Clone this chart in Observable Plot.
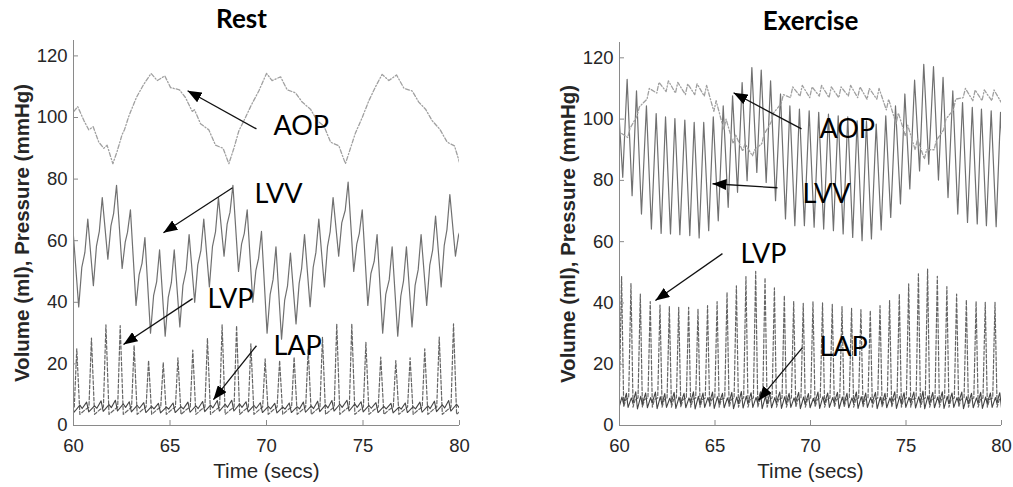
<!DOCTYPE html>
<html><head><meta charset="utf-8">
<script src="https://cdn.jsdelivr.net/npm/d3@7"></script>
<script src="https://cdn.jsdelivr.net/npm/@observablehq/plot@0.6"></script>
<style>
body{margin:0;background:#fff;}
#wrap{position:relative;width:1013px;height:487px;overflow:hidden;background:#fff;}
#left,#right{position:absolute;top:0;}
#left{left:0;} #right{left:506px;}
</style></head><body><div id="wrap"><div id="left"></div><div id="right"></div></div>
<script>
// ---------------- data ----------------
const xTicks = [60, 65, 70, 75, 80];
const yTicks = [0, 20, 40, 60, 80, 100, 120];
const seriesNames = ["AOP", "LVV", "LVP", "LAP"];

// Rest: beat times (LVV end-diastolic peaks, s)
const restBeatT = [59.98, 60.74, 61.49, 62.23, 62.95, 63.70, 64.46, 65.22, 65.99, 66.75, 67.51, 68.26, 69.00, 69.74, 70.49, 71.24, 71.97, 72.71, 73.45, 74.23, 74.96, 75.73, 76.51, 77.25, 78.01, 78.76, 79.50, 80.25];
const restLVVMax = [63, 67, 74, 78, 70, 61, 57, 57, 62, 67, 74, 78, 70, 63, 58, 56, 62, 67, 74, 79, 70, 62, 58, 58, 62, 68, 75, 70];
const restLVVMin = [38.5, 45.4, 54, 51, 39, 30, 29, 32, 40, 45, 55, 50, 40, 30, 28, 33, 38.6, 45, 55, 50, 39, 30, 29, 32, 39, 45, 55, 50];
const restLVPMax = [24.9, 28.4, 32.7, 32.4, 26, 21.1, 20.5, 22, 24.5, 28.3, 32.7, 32.4, 26.5, 21.6, 21.1, 22.2, 24.9, 28.7, 33, 33, 27, 22.2, 21.1, 22, 24.9, 28.7, 33, 26];
const restLAPHigh = [7.8, 7.6, 8.0, 8.2, 7.7, 7.4, 7.2, 7.3, 7.6, 7.8, 8.1, 8.2, 7.7, 7.4, 7.2, 7.3, 7.6, 7.9, 8.1, 8.2, 7.7, 7.4, 7.2, 7.3, 7.6, 7.9, 8.1, 7.8];
const restLAPLow = [4.3, 4.4, 4.6, 4.7, 4.4, 4.2, 4.1, 4.2, 4.3, 4.5, 4.7, 4.7, 4.4, 4.2, 4.1, 4.2, 4.3, 4.5, 4.7, 4.7, 4.4, 4.2, 4.1, 4.2, 4.3, 4.5, 4.7, 4.5];
const restAOPT = [60.02, 60.22, 60.54, 60.79, 61.02, 61.31, 61.57, 61.74, 62.04, 62.26, 62.52, 62.64, 62.87, 63.26, 63.64, 64.02, 64.34, 64.73, 65.03, 65.49, 65.80, 66.15, 66.27, 66.58, 67.01, 67.36, 67.75, 68.05, 68.31, 68.57, 68.91, 69.21, 69.60, 70.00, 70.29, 70.73, 71.07, 71.50, 71.85, 72.28, 72.63, 72.97, 73.32, 73.75, 74.09, 74.35, 74.61, 74.96, 75.30, 75.65, 75.99, 76.34, 76.74, 77.12, 77.55, 77.89, 78.24, 78.58, 78.98, 79.36, 79.74, 80.02];
const restAOPV = [102, 103.5, 99, 96, 97, 92, 90, 91, 85, 89, 94.5, 96, 100.5, 106.5, 110.8, 114.3, 112, 113.5, 109.7, 109, 106.5, 102, 102.5, 98, 96, 91, 90, 85, 90, 95.7, 100, 104, 108.6, 114.3, 112, 113.2, 109, 108, 105, 102.7, 99, 97.3, 92, 90.8, 85, 90, 95, 100, 105.4, 110, 114, 112, 113.8, 109.5, 108.6, 105, 102.7, 99, 96.2, 92, 90.8, 85];

// Exercise
const exBeatT = [59.91, 60.40, 60.89, 61.41, 61.92, 62.41, 62.90, 63.42, 63.91, 64.41, 64.91, 65.43, 65.92, 66.42, 66.93, 67.42, 67.91, 68.43, 68.92, 69.42, 69.93, 70.43, 70.94, 71.45, 71.95, 72.44, 72.93, 73.44, 73.94, 74.45, 74.94, 75.45, 75.93, 76.44, 76.94, 77.45, 77.96, 78.47, 78.95, 79.46, 79.95];
const exLVVMax = [108, 113, 109.2, 104.3, 101.8, 100.7, 100.2, 99.7, 98.9, 98.9, 100.7, 104.3, 107.6, 111.9, 116.8, 116, 112.5, 108.2, 104.3, 103.3, 102.7, 102.2, 101.6, 101.1, 100.7, 99.4, 99.4, 98.4, 101.1, 104.3, 108.2, 112.7, 117.9, 117.1, 113.6, 109.2, 105.4, 103.8, 103.3, 102.7, 102.2];
const exLVVMin = [81, 75, 69, 64.1, 62.7, 62.5, 62.3, 62, 61.2, 63.6, 66.8, 71.2, 76.1, 79.9, 82.6, 79.3, 73.4, 67.4, 65.2, 65.2, 64.7, 64.1, 63.6, 62.5, 61.4, 60.3, 60.9, 63.8, 67.9, 72.3, 77.2, 83.1, 85.3, 80.1, 74.4, 69, 66.3, 65.8, 65.2, 64.9, 65];
const exLVPMax = [48.6, 46.4, 42.9, 40.4, 39.3, 38.9, 38.6, 38.6, 38, 39.1, 40.4, 43.5, 45.6, 48.6, 50.3, 48.2, 44.9, 42.4, 40.5, 39.9, 40.4, 40, 39.5, 38.8, 38.2, 37.8, 37.5, 39.1, 40.8, 42.9, 46.2, 49.5, 51.1, 48.7, 45.3, 42.9, 41, 40.5, 40.2, 40.2, 40];
const exAOPMax = [95.5, 97, 104, 110, 112, 112.5, 112, 111.5, 111.5, 111, 106, 100, 95, 92, 90, 95, 102, 108, 110.5, 111, 110.5, 111, 110.5, 110.5, 111, 110.5, 110, 110, 106.5, 102, 98, 93.5, 90, 93, 100, 106.5, 110, 109.5, 109.5, 109.5, 109];
const exAOPMin = [93, 94, 101, 106.5, 108.5, 109, 108.5, 108, 108, 107.5, 102.5, 96.5, 92, 89.5, 88, 92, 99, 105, 107, 107.5, 107, 107.5, 107, 107, 107.5, 107, 106.5, 106.5, 103, 98.5, 94.5, 90, 87, 90, 96.5, 103, 107, 106, 106, 106, 105.5];
const exLAPHigh = [10.8, 10.5, 11, 10.6, 10.9, 10.4, 10.8, 10.5, 11, 10.6, 10.9, 10.5, 10.8, 11.1, 10.7, 11, 10.6, 10.9, 10.5, 10.8, 10.4, 10.9, 10.6, 10.8, 10.5, 10.9, 10.6, 10.8, 10.5, 11, 10.7, 10.9, 11.2, 10.8, 11, 10.6, 10.9, 10.5, 10.8, 10.6, 10.7];
const exLAPLow = [5.6, 5.9, 5.4, 5.8, 5.5, 5.9, 5.6, 5.8, 5.4, 5.9, 5.6, 5.8, 5.5, 5.7, 5.9, 5.5, 5.8, 5.6, 5.9, 5.5, 5.8, 5.6, 5.9, 5.5, 5.8, 5.6, 5.9, 5.5, 5.8, 5.6, 5.9, 5.7, 5.5, 5.8, 5.6, 5.9, 5.5, 5.8, 5.6, 5.9, 5.7];

// Annotations (data coordinates)
const restLabelT = [70.36, 69.38, 66.94, 70.36], restLabelV = [97, 75.2, 40.9, 25.6];
const restTailT = [69.48, 68.24, 66.17, 69.48], restTailV = [96.3, 77.2, 41.2, 25.9];
const restTipT = [65.91, 64.66, 62.59, 67.25], restTipV = [108.7, 62.6, 26.3, 8.4];
const exLabelT = [70.47, 69.58, 66.34, 70.47], exLabelV = [96.5, 75.6, 55.8, 25.4];
const exTailT = [69.53, 68.27, 65.39, 69.58], exTailV = [96.8, 77.6, 56.1, 25.4];
const exTipT = [65.97, 64.87, 61.88, 67.28], exTipV = [108.6, 78.9, 40.8, 8.2];

// ---------------- waveform assembly from per-beat values ----------------
function lvvRest(T, mx, mn) {
  const p = [];
  for (let i = 0; i < T.length; i++) {
    p.push({t: T[i], v: mx[i]});
    if (i + 1 < T.length) {
      const a = mn[i], b = mx[i + 1];
      p.push({t: T[i] + 0.29, v: a});
      p.push({t: T[i] + 0.45, v: a + 0.45 * (b - a)});
      p.push({t: T[i + 1] - 0.15, v: a + 0.62 * (b - a)});
    }
  }
  return p;
}
function lvvEx(T, mx, mn) {
  const p = [];
  T.forEach((t, i) => { p.push({t, v: mx[i]}); p.push({t: t + 0.26, v: mn[i]}); });
  return p;
}
function lvpWave(T, mx, o) {
  const p = [];
  T.forEach((t, i) => {
    p.push({t: t + o.up, v: o.base});
    p.push({t: t + o.pk, v: mx[i]});
    p.push({t: t + o.dn, v: o.low});
    p.push({t: t + o.rest, v: o.dia});
  });
  return p;
}
function aopWave(T, mx, mn) {
  const p = [];
  T.forEach((t, i) => { p.push({t: t + 0.03, v: mn[i]}); p.push({t: t + 0.15, v: mx[i]}); });
  return p;
}
function lapWave(T, hi, lo, o) {
  const p = [];
  T.forEach((t, i) => {
    p.push({t: t + o.a, v: hi[i]});
    p.push({t: t + o.b, v: lo[i]});
    p.push({t: t + o.c, v: hi[i] - o.d});
    p.push({t: t + o.e, v: lo[i] + o.d});
  });
  return p;
}
const zipPts = (T, V) => T.map((t, i) => ({t, v: V[i]}));
const zipAnn = (names, lt, lv, tt, tv, pt, pv) => names.map((n, i) => ({name: n, lt: lt[i], lv: lv[i], t1: tt[i], v1: tv[i], t2: pt[i], v2: pv[i]}));

const triangle = (color, context) => {
  const m = d3.create("svg:marker")
    .attr("viewBox", "-14 -5.5 14 11")
    .attr("markerWidth", 14).attr("markerHeight", 11)
    .attr("markerUnits", "userSpaceOnUse")
    .attr("orient", "auto")
    .attr("refX", 0).attr("refY", 0)
    .attr("fill", "#000").attr("stroke", "none");
  m.append("path").attr("d", "M-14,-5.5L0,0L-14,5.5Z");
  return m.node();
};

const AXIS = "#8a8a8a", TXT = "#262626";

function panel({width, ml, mr, mt, title, titleDx, aop, lvv, lvp, lap, ann}) {
  return Plot.plot({
    width, height: 487,
    marginLeft: ml, marginRight: mr, marginTop: mt, marginBottom: 62,
    x: {domain: [60, 80], label: null},
    y: {domain: [0, 125], label: null},
    style: {fontFamily: "'Liberation Sans', Arial, sans-serif", fontSize: "18.5px", background: "transparent", overflow: "visible"},
    marks: [
      Plot.line(lvv, {x: "t", y: "v", stroke: "#707070", strokeWidth: 1.2, clip: true}),
      Plot.line(aop, {x: "t", y: "v", stroke: "#a0a0a0", strokeWidth: 1.3, strokeDasharray: "4,2,1.2,2", clip: true}),
      Plot.line(lvp, {x: "t", y: "v", stroke: "#666", strokeWidth: 1.2, strokeDasharray: "3.5,2", clip: true}),
      Plot.line(lap, {x: "t", y: "v", stroke: "#444", strokeWidth: 1.1, clip: true}),
      Plot.ruleX([60], {stroke: AXIS}),
      Plot.ruleY([0], {stroke: AXIS}),
      Plot.axisY({ticks: yTicks, anchor: "left", tickSize: -5, tickPadding: 11, stroke: AXIS, fill: TXT, label: null}),
      Plot.axisX({ticks: xTicks, anchor: "bottom", tickSize: -5, tickPadding: 18, stroke: AXIS, fill: TXT, label: null}),
      Plot.text(["Volume (ml), Pressure (mmHg)"], {frameAnchor: "left", textAnchor: "middle", rotate: -90, dx: -51, fontSize: 20.5, fontWeight: "bold", fill: TXT, lineAnchor: "middle"}),
      Plot.text(["Time (secs)"], {frameAnchor: "bottom", textAnchor: "middle", dy: 46, fontSize: 20.5, fill: TXT, lineAnchor: "middle"}),
      Plot.text([title], {frameAnchor: "top", textAnchor: "middle", dx: titleDx, dy: -21, fontSize: 26, fontWeight: "bold", fontFamily: "Lato, 'Open Sans', sans-serif", fill: "#000", lineAnchor: "middle"}),
      Plot.link(ann, {x1: "t1", y1: "v1", x2: "t2", y2: "v2", stroke: "#111", strokeWidth: 1.3, markerEnd: triangle}),
      Plot.text(ann, {x: "lt", y: "lv", text: "name", textAnchor: "start", lineAnchor: "middle", fontSize: 27, fontFamily: "Lato, 'Open Sans', sans-serif", fill: "#000"})
    ]
  });
}

document.getElementById("left").append(panel({
  width: 506, ml: 73, mr: 47, mt: 40, title: "Rest", titleDx: -25,
  aop: zipPts(restAOPT, restAOPV),
  lvv: lvvRest(restBeatT, restLVVMax, restLVVMin),
  lvp: lvpWave(restBeatT, restLVPMax, {up: 0.06, pk: 0.19, dn: 0.35, rest: 0.6, base: 6, low: 3.6, dia: 5}),
  lap: lapWave(restBeatT, restLAPHigh, restLAPLow, {a: -0.06, b: 0.05, c: 0.35, d: 1.2, e: 0.47}),
  ann: zipAnn(seriesNames, restLabelT, restLabelV, restTailT, restTailV, restTipT, restTipV)
}));
document.getElementById("right").append(panel({
  width: 507, ml: 113, mr: 12, mt: 42, title: "Exercise", titleDx: 0,
  aop: aopWave(exBeatT, exAOPMax, exAOPMin),
  lvv: lvvEx(exBeatT, exLVVMax, exLVVMin),
  lvp: lvpWave(exBeatT, exLVPMax, {up: 0.08, pk: 0.2, dn: 0.31, rest: 0.42, base: 9, low: 6, dia: 8.5}),
  lap: lapWave(exBeatT, exLAPHigh, exLAPLow, {a: -0.04, b: 0.05, c: 0.22, d: 1.5, e: 0.3}),
  ann: zipAnn(seriesNames, exLabelT, exLabelV, exTailT, exTailV, exTipT, exTipV)
}));
</script></body></html>
